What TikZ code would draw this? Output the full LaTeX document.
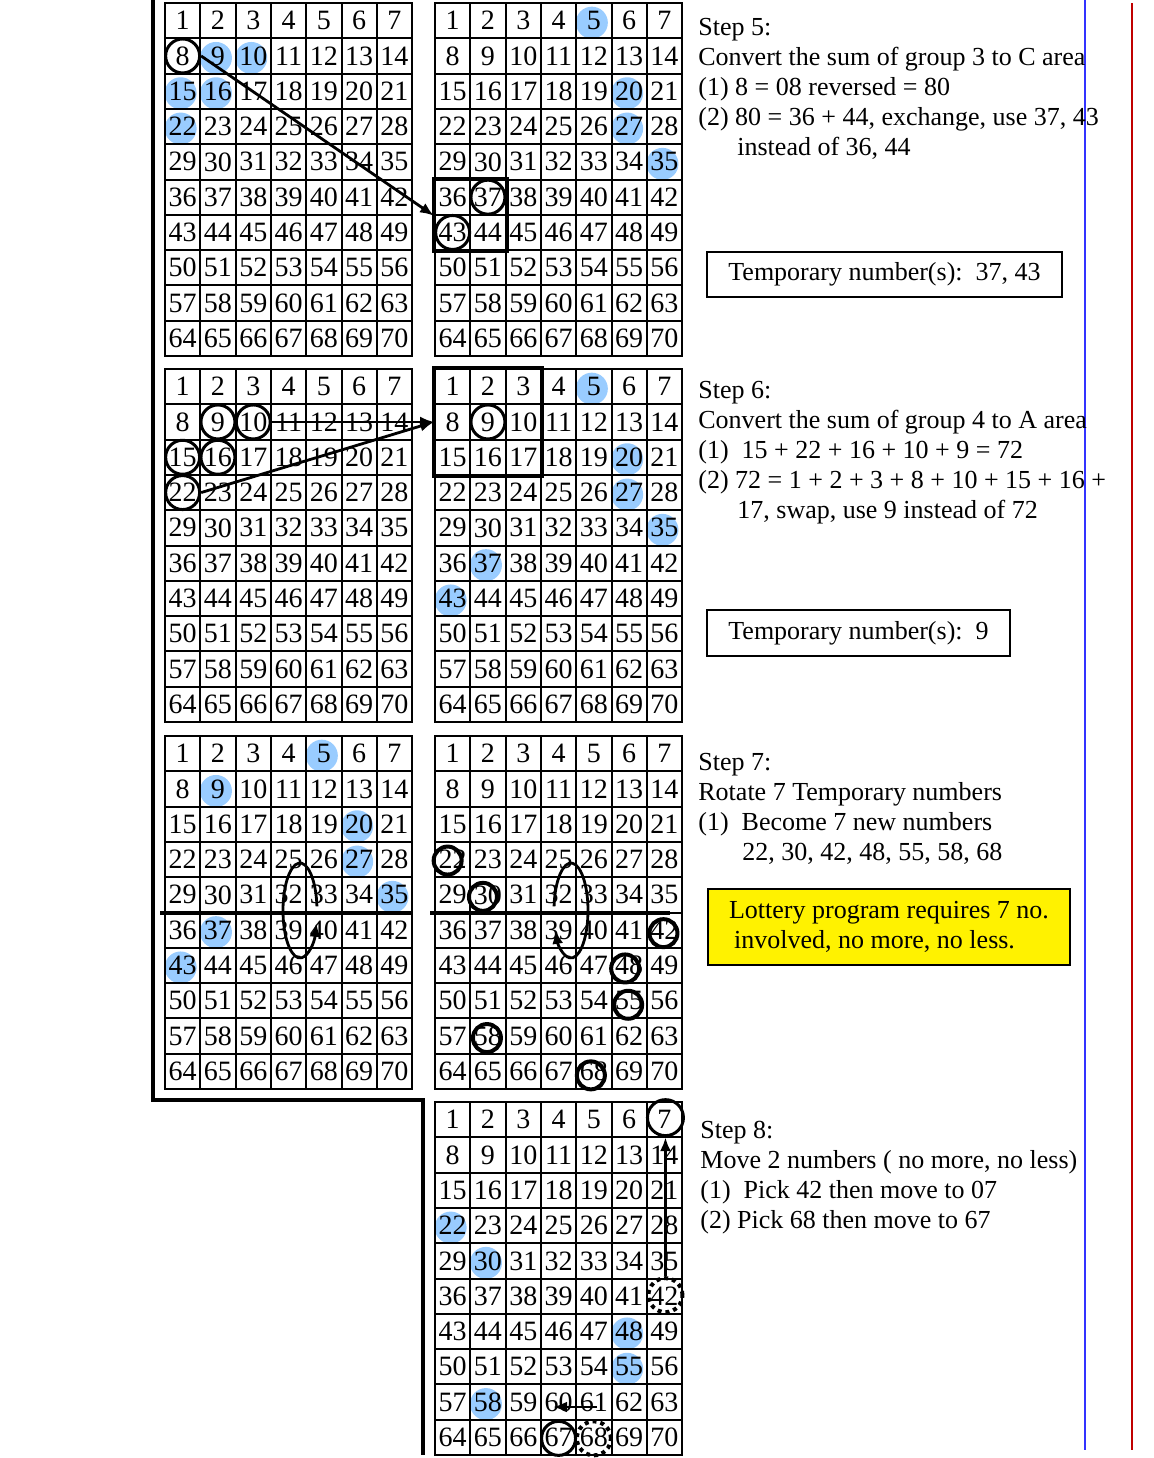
\documentclass[tikz,border=0pt]{standalone}
\usepackage{fontspec}
\setmainfont{Liberation Serif}
\usetikzlibrary{arrows.meta,calc,backgrounds}
\definecolor{hilite}{RGB}{153,204,255}
\definecolor{lineblue}{RGB}{51,51,255}
\definecolor{linered}{RGB}{192,0,0}

\tikzset{
  cell/.style={draw,line width=1pt,minimum size=17.65pt,inner sep=0pt,font=\fontsize{14}{16}\selectfont},
  pick/.style={draw,circle,line width=1.5pt,minimum size=17pt,inner sep=0pt},
  ring/.style={draw,circle,line width=2pt,minimum size=14pt,inner sep=0pt},
  moved/.style={draw,circle,dotted,line width=2pt,minimum size=17pt,inner sep=0pt},
  block/.style={draw,line width=2pt},
  steptext/.style={anchor=north west,inner sep=0pt,align=left,font=\fontsize{13}{15}\selectfont},
  tempbox/.style={draw,line width=1pt,anchor=north west,inner sep=0pt,font=\fontsize{13}{15}\selectfont},
  arr/.style={-{Latex[length=7pt,width=5.5pt]},line width=1.4pt}
}

% 7x10 number grid: name, left, top
\newcommand{\numgrid}[3]{%
  \foreach \row in {0,...,9}{%
    \foreach \col in {0,...,6}{%
      \pgfmathtruncatemacro{\n}{7*\row+\col+1}%
      \node[cell] (#1-\n) at ({#2+(\col+0.5)*35.3},{#3+(\row+0.5)*35.3}) {\n};
    }%
  }%
}
% light blue dot behind a number
\newcommand{\hit}[2]{\fill[hilite] ($(#1-#2)+(-2,2)$) circle[radius=16];}

\begin{document}
\begin{tikzpicture}[x=0.5pt,y=-0.5pt]
  \useasboundingbox (0,0) rectangle (1154,1458);

  % grids
  \numgrid{g1}{165}{3}
  \numgrid{g2}{435}{3}
  \numgrid{g3}{165}{369}
  \numgrid{g4}{435}{369}
  \numgrid{g5}{165}{736}
  \numgrid{g6}{435}{736}
  \numgrid{g7}{435}{1102}

  % blue dots
  \begin{pgfonlayer}{background}
    \foreach \k in {9,10,15,16,22} {\hit{g1}{\k}}
    \foreach \k in {5,20,27,35} {\hit{g2}{\k}}
    \foreach \k in {5,20,27,35,37,43} {\hit{g4}{\k}}
    \foreach \k in {5,9,20,27,35,37,43} {\hit{g5}{\k}}
    \foreach \k in {22,30,48,55,58} {\hit{g7}{\k}}
  \end{pgfonlayer}

  % frame and side lines
  \draw[line width=2pt] (153,0) -- (153,1100) -- (423,1100) -- (423,1455);
  \draw[lineblue,line width=1pt] (1085,0) -- (1085,1450);
  \draw[linered,line width=1pt] (1132,3) -- (1132,1450);

  % step 5
  \node[pick] (g1c8) at (g1-8) {};
  \draw[block] (g2-36.north west) rectangle (g2-44.south east);
  \node[pick] (g2c37) at (g2-37) {};
  \node[pick] (g2c43) at (g2-43) {};
  \draw[arr] (g1c8.east) -- (g2-36.south west);

  % step 6
  \foreach \k in {9,10,15,16,22} {\node[pick] (g3c\k) at (g3-\k) {};}
  \draw[block] (g4-1.north west) rectangle (g4-17.south east);
  \node[pick] (g4c9) at (g4-9) {};
  \draw[arr] (g3c10.east) -- (g4-8.west);
  \draw[arr] (g3c22.east) -- (g4-8.west);

  % step 7
  \draw[line width=2pt] (160,912.5) -- (412,912.5);
  \draw[line width=2pt] (430,912.5) -- (670,912.5);
  \coordinate (g5spin) at (300,910.5);
  \coordinate (g6spin) at (571,910.5);
  \draw[arr] ($(g5spin)+(355:17 and 47.5)$) arc[start angle=355,end angle=15,x radius=17,y radius=47.5];
  \draw[arr] ($(g6spin)+(-175:17 and 47.5)$) arc[start angle=-175,end angle=156,x radius=17,y radius=47.5];
  \node[ring] (g6c22) at ($(g6-22)+(-5,1)$) {};
  \node[ring] (g6c30) at ($(g6-30)+(-5,2)$) {};
  \node[ring] (g6c42) at ($(g6-42)+(-1,3)$) {};
  \node[ring] (g6c48) at ($(g6-48)+(-4,3)$) {};
  \node[ring] (g6c55) at ($(g6-55)+(-1,4)$) {};
  \node[ring] (g6c58) at ($(g6-58)+(-1,2)$) {};
  \node[ring] (g6c68) at ($(g6-68)+(-3,4)$) {};

  % step 8
  \node[pick,minimum size=18pt] (g7c7) at ($(g7-7)+(1,-2)$) {};
  \node[moved] (g7d42) at ($(g7-42)+(1,-1)$) {};
  \node[moved] (g7d68) at ($(g7-68)+(0,1)$) {};
  \node[pick] (g7c67) at ($(g7-67)+(0,1)$) {};
  \draw[arr] (g7d42.north) -- (g7c7.south);
  \coordinate (g7from) at (597,1407);
  \coordinate (g7to) at (553,1407);
  \draw[arr] (g7from) -- (g7to);

  % texts
  \node[steptext] (step5) at (698,18) {Step 5:\\Convert the sum of group 3 to C area\\(1) 8 = 08 reversed = 80\\(2) 80 = 36 + 44, exchange, use 37, 43\\\hspace*{19.5pt}instead of 36, 44};
  \node[tempbox,minimum width=177.5pt,minimum height=22.5pt] (temp5) at (706,251) {Temporary number(s):\ \ 37, 43};

  \node[steptext] (step6) at (698,381) {Step 6:\\Convert the sum of group 4 to A area\\(1)\ \ 15 + 22 + 16 + 10 + 9 = 72\\(2) 72 = 1 + 2 + 3 + 8 + 10 + 15 + 16 +\\\hspace*{19.5pt}17, swap, use 9 instead of 72};
  \node[tempbox,minimum width=151.5pt,minimum height=23pt] (temp6) at (706,609) {Temporary number(s):\ \ 9};

  \node[steptext] (step7) at (698,753) {Step 7:\\Rotate 7 Temporary numbers\\(1)\ \ Become 7 new numbers\\\hspace*{22pt}22, 30, 42, 48, 55, 58, 68};
  \node[tempbox,fill=yellow,minimum width=181pt,minimum height=38pt,align=left] (rule7) at (707,888) {Lottery program requires 7 no.\\\hspace*{2.5pt}involved, no more, no less.};

  \node[steptext] (step8) at (700,1121) {Step 8:\\Move 2 numbers ( no more, no less)\\(1)\ \ Pick 42 then move to 07\\(2) Pick 68 then move to 67};
\end{tikzpicture}
\end{document}
